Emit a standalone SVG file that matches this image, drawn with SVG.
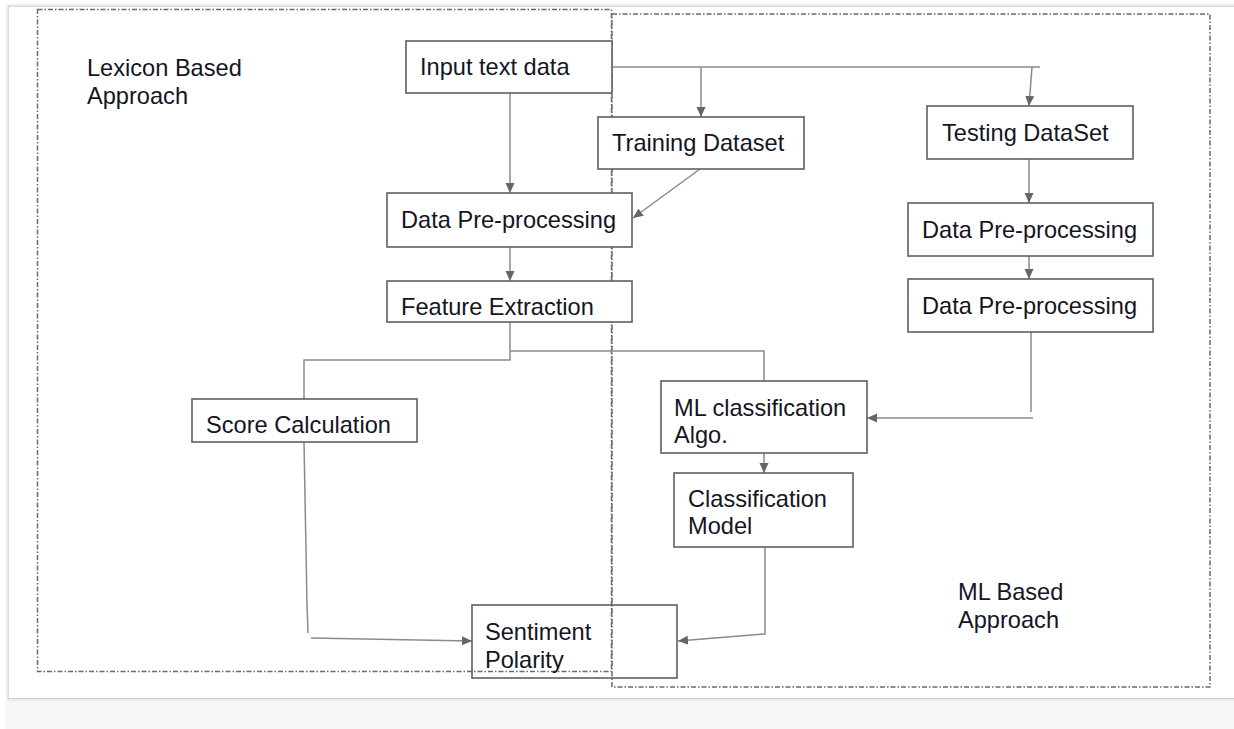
<svg xmlns="http://www.w3.org/2000/svg" width="1234" height="729" viewBox="0 0 1234 729">
  <defs>
    <marker id="arrow" viewBox="0 0 10 10" refX="10" refY="5" markerWidth="10" markerHeight="10" markerUnits="userSpaceOnUse" orient="auto">
      <path d="M0,0.5 L10,5 L0,9.5 Z" fill="#666"/>
    </marker>
    <filter id="shadow" x="-5%" y="-5%" width="110%" height="110%">
      <feGaussianBlur stdDeviation="1.2"/>
    </filter>
  </defs>
  <style>
    .node rect { fill: #ffffff; stroke: #5f5f5f; stroke-width: 1.6; }
    .label { font-family: "Liberation Sans", Arial, sans-serif; font-size: 23.6px; fill: #15151f; }
    .group { fill: none; stroke: #6a6a6a; stroke-width: 1.5; stroke-dasharray: 5 2 1.5 2; }
    .edge { fill: none; stroke: #8a8a8a; stroke-width: 1.5; }
  </style>

  <!-- page sheet -->
  <rect x="0" y="0" width="1234" height="729" fill="#ffffff"/>
  <rect x="5" y="700" width="1229" height="29" fill="#f6f7f9"/>
  <rect x="8" y="6" width="1240" height="693" fill="none" stroke="#d8d8d8" stroke-width="2" filter="url(#shadow)"/>
  <rect x="8" y="6" width="1240" height="692" fill="#ffffff"/>
  <line x1="8.5" y1="6" x2="8.5" y2="698" stroke="#dcdcdc" stroke-width="1"/>
  <line x1="8" y1="6.5" x2="1234" y2="6.5" stroke="#dcdcdc" stroke-width="1"/>
  <line x1="8" y1="698.5" x2="1234" y2="698.5" stroke="#d4d4d4" stroke-width="1"/>

  <!-- approach regions -->
  <g id="lexicon-region">
    <rect class="group" x="37.5" y="9.5" width="574" height="662"/>
    <text class="label" x="87" y="76">Lexicon Based</text>
    <text class="label" x="87" y="104">Approach</text>
  </g>
  <g id="ml-region">
    <rect class="group" x="612" y="14" width="598" height="673"/>
    <text class="label" x="958" y="600">ML Based</text>
    <text class="label" x="958" y="628">Approach</text>
  </g>

  <!-- connectors -->
  <g id="connectors">
    <line class="edge" x1="510" y1="93" x2="510" y2="193" marker-end="url(#arrow)"/>
    <polyline class="edge" points="612,67 1040,67"/>
    <line class="edge" x1="701" y1="67" x2="701" y2="117" marker-end="url(#arrow)"/>
    <line class="edge" x1="1032" y1="67" x2="1029" y2="106" marker-end="url(#arrow)"/>
    <line class="edge" x1="700" y1="169" x2="633" y2="218" marker-end="url(#arrow)"/>
    <line class="edge" x1="510" y1="247" x2="510" y2="281" marker-end="url(#arrow)"/>
    <polyline class="edge" points="510,322 510,360 304,360 304,399"/>
    <polyline class="edge" points="510,351 764,351 764,381"/>
    <line class="edge" x1="1029" y1="159" x2="1029" y2="203" marker-end="url(#arrow)"/>
    <line class="edge" x1="1029" y1="256" x2="1029" y2="279" marker-end="url(#arrow)"/>
    <line class="edge" x1="1031" y1="332" x2="1031" y2="412"/>
    <line class="edge" x1="1033" y1="418" x2="867" y2="418" marker-end="url(#arrow)"/>
    <line class="edge" x1="764" y1="453" x2="764" y2="473" marker-end="url(#arrow)"/>
    <polyline class="edge" points="765,547 765,634 678,641" marker-end="url(#arrow)"/>
    <polyline class="edge" points="304,442 307,605 308,633"/>
    <line class="edge" x1="311" y1="638" x2="472" y2="641" marker-end="url(#arrow)"/>
  </g>

  <!-- process steps -->
  <g id="input-text-data" class="node">
    <rect x="406" y="41" width="206" height="52"/>
    <text class="label" x="420" y="75">Input text data</text>
  </g>
  <g id="training-dataset" class="node">
    <rect x="598" y="117" width="206" height="52"/>
    <text class="label" x="612" y="151">Training Dataset</text>
  </g>
  <g id="testing-dataset" class="node">
    <rect x="927" y="106" width="206" height="53"/>
    <text class="label" x="942" y="141">Testing DataSet</text>
  </g>
  <g id="preprocessing-lexicon" class="node">
    <rect x="387" y="193" width="245" height="54"/>
    <text class="label" x="401" y="228">Data Pre-processing</text>
  </g>
  <g id="preprocessing-test-1" class="node">
    <rect x="908" y="203" width="245" height="53"/>
    <text class="label" x="922" y="238">Data Pre-processing</text>
  </g>
  <g id="preprocessing-test-2" class="node">
    <rect x="908" y="279" width="245" height="53"/>
    <text class="label" x="922" y="314">Data Pre-processing</text>
  </g>
  <g id="feature-extraction" class="node">
    <rect x="387" y="281" width="245" height="41"/>
    <text class="label" x="401" y="315">Feature Extraction</text>
  </g>
  <g id="score-calculation" class="node">
    <rect x="192" y="399" width="225" height="43"/>
    <text class="label" x="206" y="433">Score Calculation</text>
  </g>
  <g id="ml-classification" class="node">
    <rect x="661" y="381" width="206" height="72"/>
    <text class="label" x="674" y="416">ML classification</text>
    <text class="label" x="674" y="443">Algo.</text>
  </g>
  <g id="classification-model" class="node">
    <rect x="674" y="473" width="179" height="74"/>
    <text class="label" x="688" y="507">Classification</text>
    <text class="label" x="688" y="534">Model</text>
  </g>
  <g id="sentiment-polarity" class="node">
    <rect x="472" y="605" width="205" height="73" fill-opacity="0"/>
    <text class="label" x="485" y="640">Sentiment</text>
    <text class="label" x="485" y="668">Polarity</text>
  </g>
</svg>
